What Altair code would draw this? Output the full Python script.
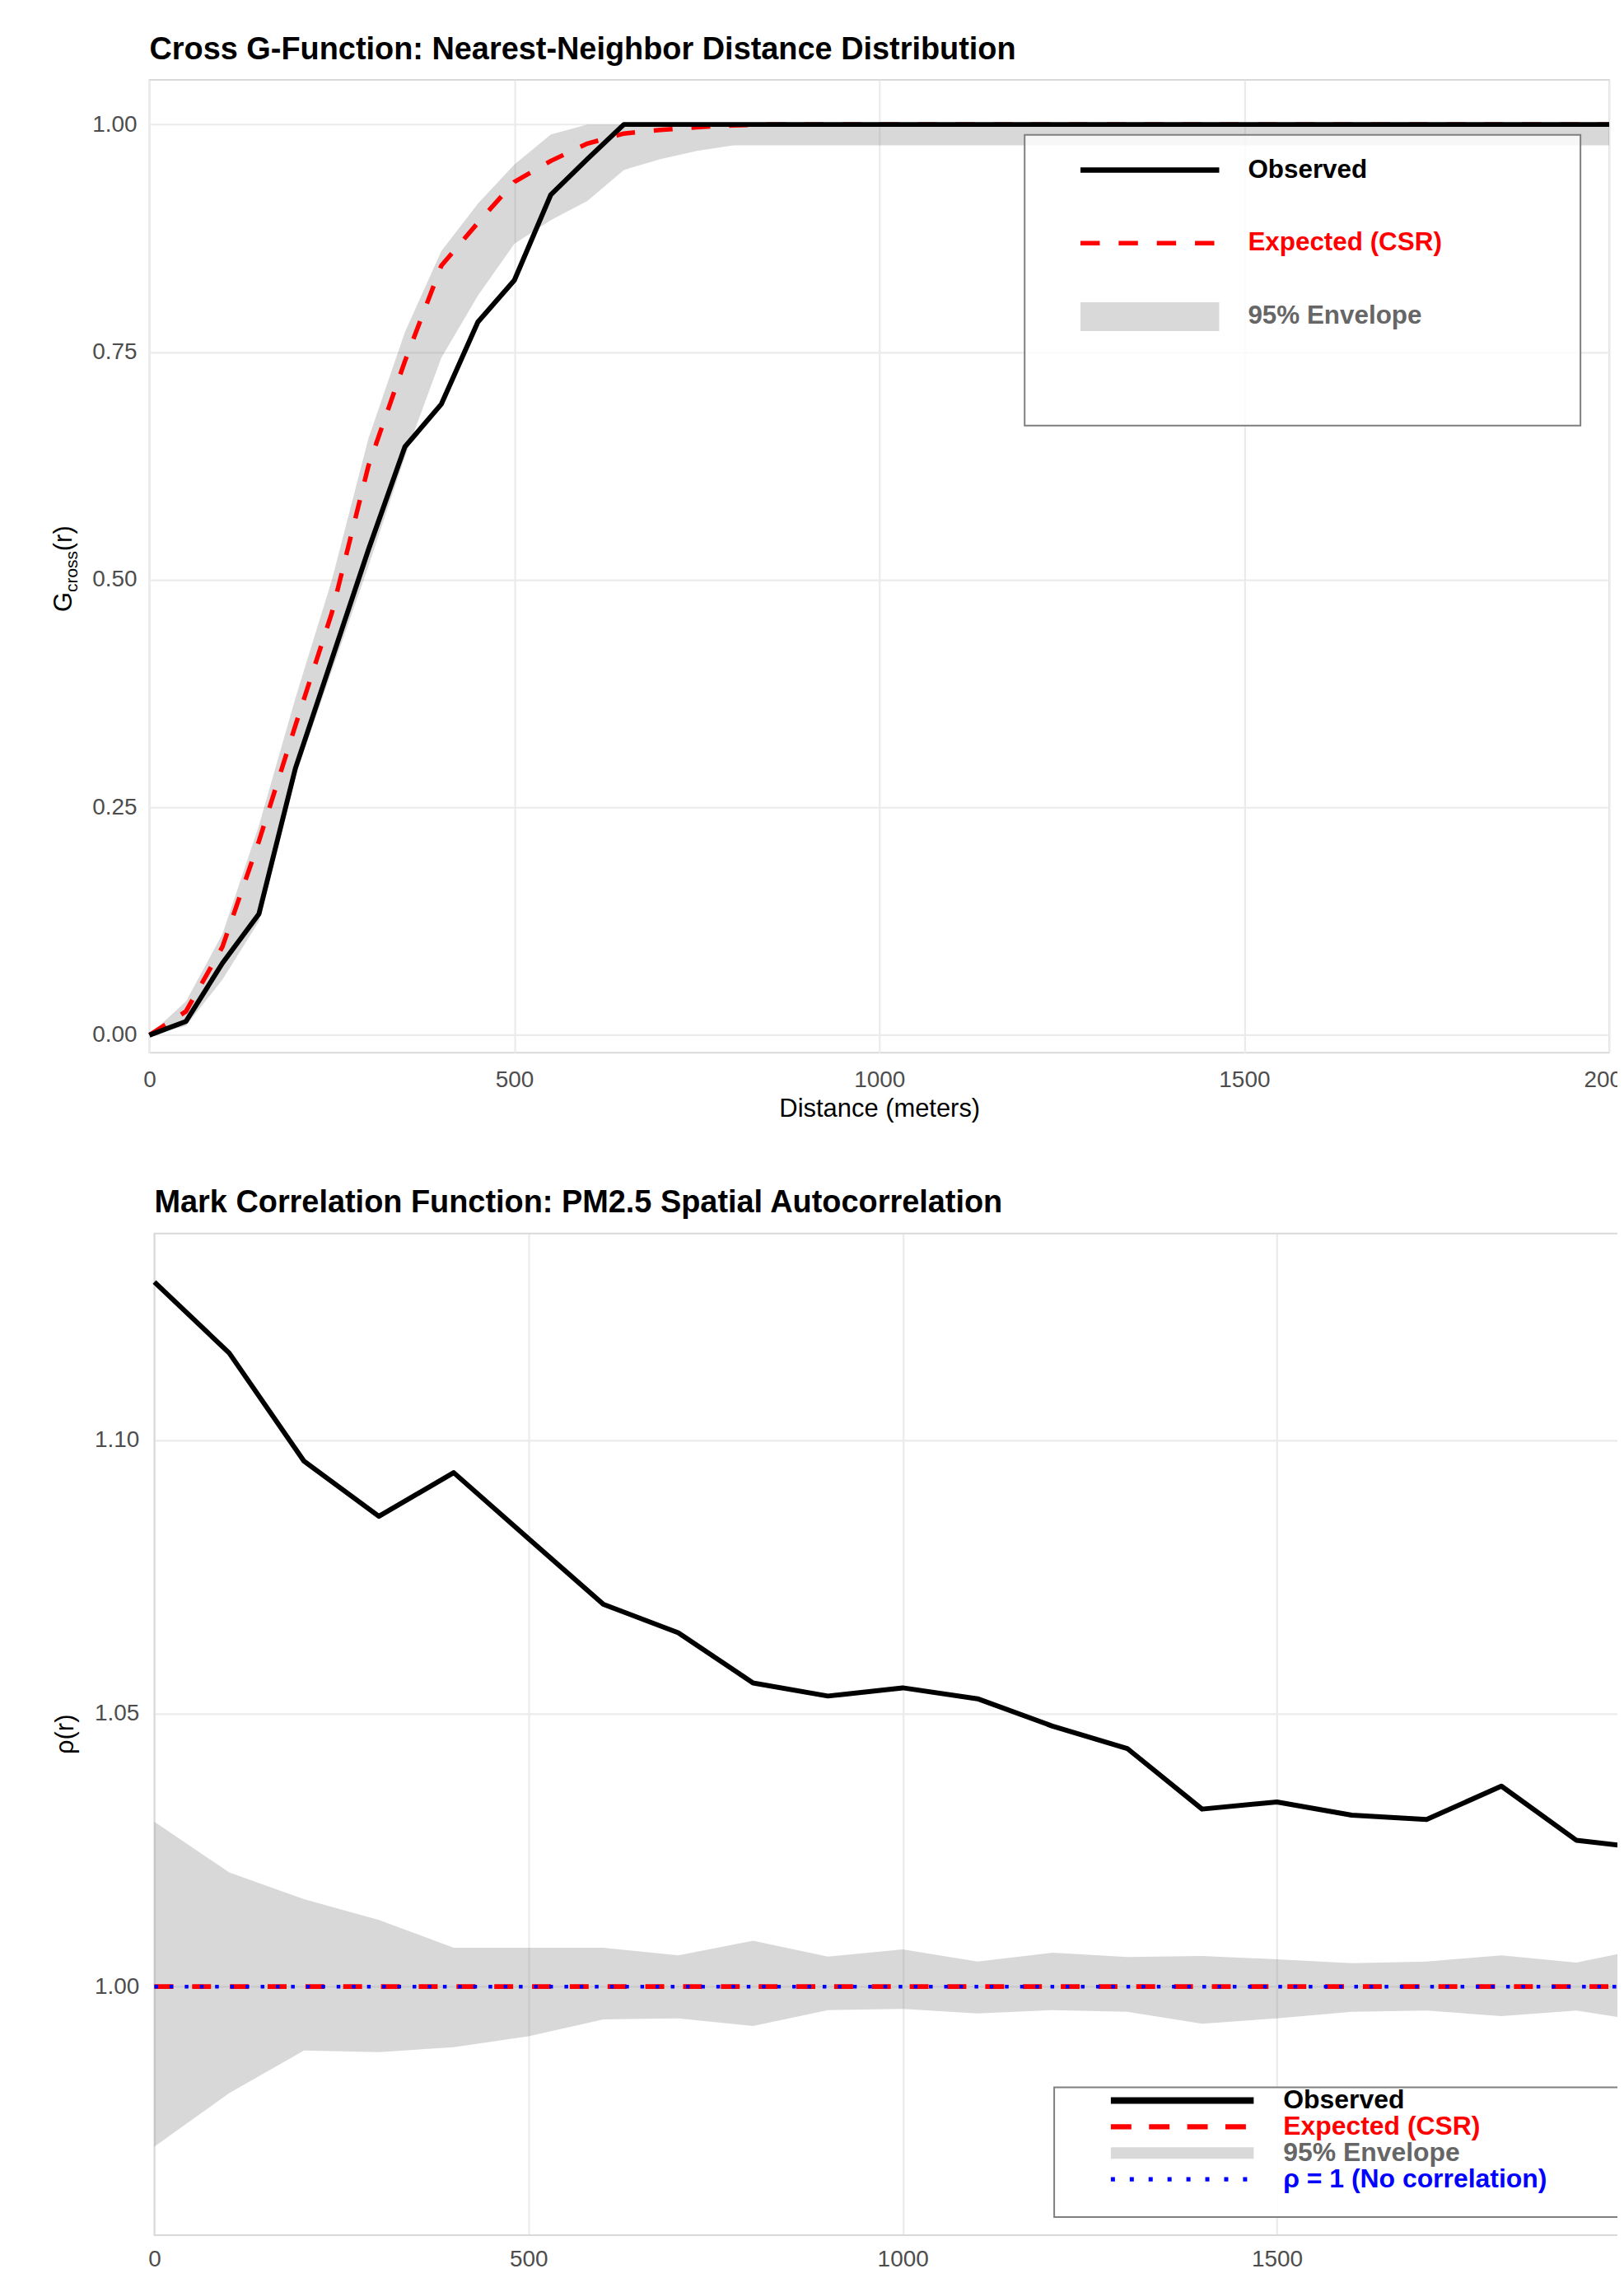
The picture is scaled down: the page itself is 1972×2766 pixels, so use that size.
import altair as alt
import pandas as pd

FONT = "Liberation Sans"

# ---------------- Cross G-function (top panel) ----------------
g_dist = list(range(0, 2001, 50))
g_observed = [
    0.000, 0.015, 0.079, 0.133, 0.293, 0.413, 0.533, 0.646, 0.693, 0.783,
    0.829, 0.923, 0.962, 1.000, 1.000, 1.000, 1.000, 1.000, 1.000, 1.000,
    1.000, 1.000, 1.000, 1.000, 1.000, 1.000, 1.000, 1.000, 1.000, 1.000,
    1.000, 1.000, 1.000, 1.000, 1.000, 1.000, 1.000, 1.000, 1.000, 1.000,
    1.000,
]
g_expected = [
    0.000, 0.026, 0.097, 0.213, 0.340, 0.464, 0.625, 0.740, 0.845, 0.892,
    0.937, 0.960, 0.979, 0.990, 0.994, 0.997, 0.999, 1.000, 1.000, 1.000,
    1.000, 1.000, 1.000, 1.000, 1.000, 1.000, 1.000, 1.000, 1.000, 1.000,
    1.000, 1.000, 1.000, 1.000, 1.000, 1.000, 1.000, 1.000, 1.000, 1.000,
    1.000,
]
g_env_hi = [
    0.000, 0.037, 0.111, 0.230, 0.370, 0.500, 0.655, 0.772, 0.861, 0.913,
    0.956, 0.989, 1.000, 1.000, 1.000, 1.000, 1.000, 1.000, 1.000, 1.000,
    1.000, 1.000, 1.000, 1.000, 1.000, 1.000, 1.000, 1.000, 1.000, 1.000,
    1.000, 1.000, 1.000, 1.000, 1.000, 1.000, 1.000, 1.000, 1.000, 1.000,
    1.000,
]
g_env_lo = [
    0.000, 0.010, 0.061, 0.125, 0.285, 0.400, 0.515, 0.635, 0.744, 0.812,
    0.869, 0.895, 0.916, 0.950, 0.962, 0.971, 0.977, 0.977, 0.977, 0.977,
    0.977, 0.977, 0.977, 0.977, 0.977, 0.977, 0.977, 0.977, 0.977, 0.977,
    0.977, 0.977, 0.977, 0.977, 0.977, 0.977, 0.977, 0.977, 0.977, 0.977,
    0.977,
]

# ---------------- Mark correlation function (bottom panel) ----------------
m_dist = list(range(0, 2001, 100))
m_observed = [
    1.1290, 1.1160, 1.0962, 1.0861, 1.0941, 1.0820, 1.0700, 1.0648, 1.0556, 1.0532,
    1.0547, 1.0527, 1.0477, 1.0436, 1.0325, 1.0338, 1.0314, 1.0306, 1.0367, 1.0268,
    1.0252,
]
m_expected = [
    1.0, 1.0, 1.0, 1.0, 1.0, 1.0, 1.0, 1.0, 1.0, 1.0,
    1.0, 1.0, 1.0, 1.0, 1.0, 1.0, 1.0, 1.0, 1.0, 1.0,
    1.0,
]
m_env_hi = [
    1.0302, 1.0209, 1.0160, 1.0122, 1.0071, 1.0071, 1.0071, 1.0057, 1.0084, 1.0055,
    1.0068, 1.0046, 1.0062, 1.0054, 1.0056, 1.0050, 1.0043, 1.0046, 1.0057, 1.0044,
    1.0072,
]
m_env_lo = [
    0.9707, 0.9805, 0.9883, 0.9880, 0.9889, 0.9909, 0.9940, 0.9942, 0.9928, 0.9957,
    0.9959, 0.9951, 0.9957, 0.9954, 0.9932, 0.9942, 0.9954, 0.9956, 0.9946, 0.9956,
    0.9935,
]
rho_reference = 1.0

# ---------------- labels ----------------
top_title = "Cross G-Function: Nearest-Neighbor Distance Distribution"
bottom_title = "Mark Correlation Function: PM2.5 Spatial Autocorrelation"
x_title = "Distance (meters)"
top_x_ticks = [0, 500, 1000, 1500, 2000]
bottom_x_ticks = [0, 500, 1000, 1500]
top_legend_labels = ["Observed", "Expected (CSR)", "95% Envelope"]
top_legend_colors = ["#000000", "#FF0000", "#666666"]
bottom_legend_labels = ["Observed", "Expected (CSR)", "95% Envelope", "ρ = 1 (No correlation)"]
bottom_legend_colors = ["#000000", "#FF0000", "#666666", "#0000FF"]

df_g = pd.DataFrame({"r": g_dist, "obs": g_observed, "exp": g_expected,
                     "lo": g_env_lo, "hi": g_env_hi})
df_m = pd.DataFrame({"r": m_dist, "obs": m_observed, "exp": m_expected,
                     "lo": m_env_lo, "hi": m_env_hi})

W1, H1 = 1778, 1185
SHIFT2 = 6                 # bottom panel starts a little further right
W2, H2 = 1823 + SHIFT2, 1220

# fixed canvas: whatever lies past the window edge is cut off, as in the reference
PAD_L, PAD_T = 174, 85
CANVAS_W, CANVAS_H = 1962, 2750


def x_top():
    return alt.X("r:Q", scale=alt.Scale(domain=[0, 2000], nice=False, zero=False),
                 axis=alt.Axis(values=top_x_ticks, format="d", title=x_title,
                               labelFlush=False, labelOverlap=False,
                               labelPadding=19, titlePadding=6))


def x_bot():
    return alt.X("r:Q", scale=alt.Scale(domain=[0, 2000], nice=False, zero=False,
                                        range=[SHIFT2, W2]),
                 axis=alt.Axis(values=bottom_x_ticks, format="d", title=None,
                               labelFlush=False, labelOverlap=False, labelPadding=15.5))


def y_top(field):
    return alt.Y(f"{field}:Q",
                 scale=alt.Scale(domain=[-0.0194, 1.049], nice=False, zero=False),
                 axis=alt.Axis(values=[0, 0.25, 0.5, 0.75, 1.0], format=".2f",
                               title=None, labelPadding=15.5))


def y_bot(field):
    return alt.Y(f"{field}:Q",
                 scale=alt.Scale(domain=[0.9545, 1.1379], nice=False, zero=False),
                 axis=alt.Axis(values=[1.0, 1.05, 1.10], format=".2f",
                               title=None, labelPadding=12.7))


def const():
    return alt.Chart(pd.DataFrame({"k": [0]}))


def box(x0, x1, y0, y1, op, stroke="#7F7F7F"):
    return const().mark_rect(fill="white", fillOpacity=op, stroke=stroke,
                             strokeWidth=2).encode(
        x=alt.value(x0), x2=alt.value(x1), y=alt.value(y0), y2=alt.value(y1))


def key_line(x0, x1, y, color, width, dash=None):
    kw = dict(color=color, strokeWidth=width)
    if dash:
        kw["strokeDash"] = dash
    return const().mark_rule(**kw).encode(x=alt.value(x0), x2=alt.value(x1), y=alt.value(y))


def key_rect(x0, x1, y0, y1):
    return const().mark_rect(fill="#D9D9D9").encode(
        x=alt.value(x0), x2=alt.value(x1), y=alt.value(y0), y2=alt.value(y1))


def label(text, x, y, color, size, angle=0, align="left", baseline="middle", weight="bold"):
    kw = dict(align=align, baseline=baseline, font=FONT, fontSize=size,
              fontWeight=weight, color=color)
    if angle:
        kw["angle"] = angle
    return alt.Chart(pd.DataFrame({"t": [text]})).mark_text(**kw).encode(
        text="t:N", x=alt.value(x), y=alt.value(y))


# ---------------- top panel ----------------
bg = alt.Chart(df_g)
env_g = bg.mark_area(color="#7F7F7F", opacity=0.3).encode(x=x_top(), y=y_top("lo"), y2="hi:Q")
exp_g = bg.mark_line(color="#FF0000", strokeWidth=5.5, strokeDash=[23, 23],
                     strokeJoin="round").encode(x=x_top(), y=y_top("exp"))
obs_g = bg.mark_line(color="#000000", strokeWidth=6, strokeJoin="round").encode(
    x=x_top(), y=y_top("obs"))

top_layers = [env_g, exp_g, obs_g,
              box(1066, 1743, 67, 421, 0.8),
              key_line(1134, 1303, 110, "#000000", 6.5),
              key_line(1134, 1303, 199, "#FF0000", 5.5, [23.5, 23]),
              key_rect(1134, 1303, 271, 306)]
for i, (lab, col) in enumerate(zip(top_legend_labels, top_legend_colors)):
    top_layers.append(label(lab, 1338, 110 + 89 * i, col, 31.5))
# y-axis title G_cross(r)
top_layers += [
    label("G", -95, 648, "#000000", 31, angle=270, baseline="alphabetic", weight="normal"),
    label("cross", -88, 624, "#000000", 21, angle=270, baseline="alphabetic", weight="normal"),
    label("(r)", -95, 574, "#000000", 31, angle=270, baseline="alphabetic", weight="normal"),
]

top = alt.layer(*top_layers).properties(
    width=W1, height=H1,
    title=alt.TitleParams(top_title, anchor="start", frame="group", font=FONT,
                          fontSize=38, fontWeight="bold", color="#000000", offset=17))

# ---------------- bottom panel ----------------
bm = alt.Chart(df_m)
border_m = const().mark_rect(fill="transparent", stroke="#D9D9D9", strokeWidth=2).encode(
    x=alt.value(SHIFT2), x2=alt.value(W2 + 20), y=alt.value(0), y2=alt.value(H2))
env_m = bm.mark_area(color="#7F7F7F", opacity=0.3).encode(x=x_bot(), y=y_bot("lo"), y2="hi:Q")
exp_m = bm.mark_line(color="#FF0000", strokeWidth=5.7, strokeDash=[23, 23]).encode(
    x=x_bot(), y=y_bot("exp"))
rho_m = alt.Chart(pd.DataFrame({"rho": [rho_reference]})).mark_rule(
    color="#0000FF", strokeWidth=4.5, strokeDash=[4.5, 14]).encode(
    y=y_bot("rho"), x=alt.value(SHIFT2), x2=alt.value(W2))
obs_m = bm.mark_line(color="#000000", strokeWidth=6, strokeJoin="round").encode(
    x=x_bot(), y=y_bot("obs"))

bot_rows = [1056, 1088, 1120, 1152]
kx0, kx1, tx = 1165 + SHIFT2, 1339 + SHIFT2, 1375 + SHIFT2
bot_layers = [border_m, env_m, exp_m, rho_m, obs_m,
              box(1096 + SHIFT2, 1800, 1040, 1198, 0.9),
              key_line(kx0, kx1, bot_rows[0], "#000000", 8),
              key_line(kx0, kx1, bot_rows[1], "#FF0000", 6.3, [25, 21.5]),
              key_rect(kx0, kx1, bot_rows[2] - 7, bot_rows[2] + 7),
              key_line(kx0, kx1, bot_rows[3], "#0000FF", 5.5, [5, 18])]
for i, (lab, col) in enumerate(zip(bottom_legend_labels, bottom_legend_colors)):
    bot_layers.append(label(lab, tx, bot_rows[i], col, 32))
bot_layers.append(label("ρ(r)", -102, H2 / 2, "#000000", 31, angle=270,
                        align="center", baseline="middle", weight="normal"))

bottom = alt.layer(*bot_layers).properties(
    width=W2, height=H2,
    view=alt.ViewBackground(stroke="transparent"),
    title=alt.TitleParams(bottom_title, anchor="start", frame="group", font=FONT,
                          fontSize=38, fontWeight="bold", color="#000000", offset=17,
                          dx=SHIFT2))

chart = alt.concat(top, bottom, columns=1, spacing=79, align="none").properties(
    padding={"left": PAD_L, "top": PAD_T, "right": 0, "bottom": 0},
    autosize=alt.AutoSizeParams(type="none"),
).configure_view(
    stroke="#D9D9D9", strokeWidth=2
).configure_axis(
    domain=False, ticks=False, tickSize=0, grid=True, gridColor="#EBEBEB",
    gridWidth=2.2, labelFont=FONT, labelFontSize=28, labelColor="#4D4D4D",
    titleFont=FONT, titleFontSize=31, titleColor="#000000", titleFontWeight="normal"
)
chart.params = [
    alt.VariableParameter(name="width", value=CANVAS_W - PAD_L),
    alt.VariableParameter(name="height", value=CANVAS_H - PAD_T),
]

chart.save("out.html", embed_options={"renderer": "svg", "actions": False})
